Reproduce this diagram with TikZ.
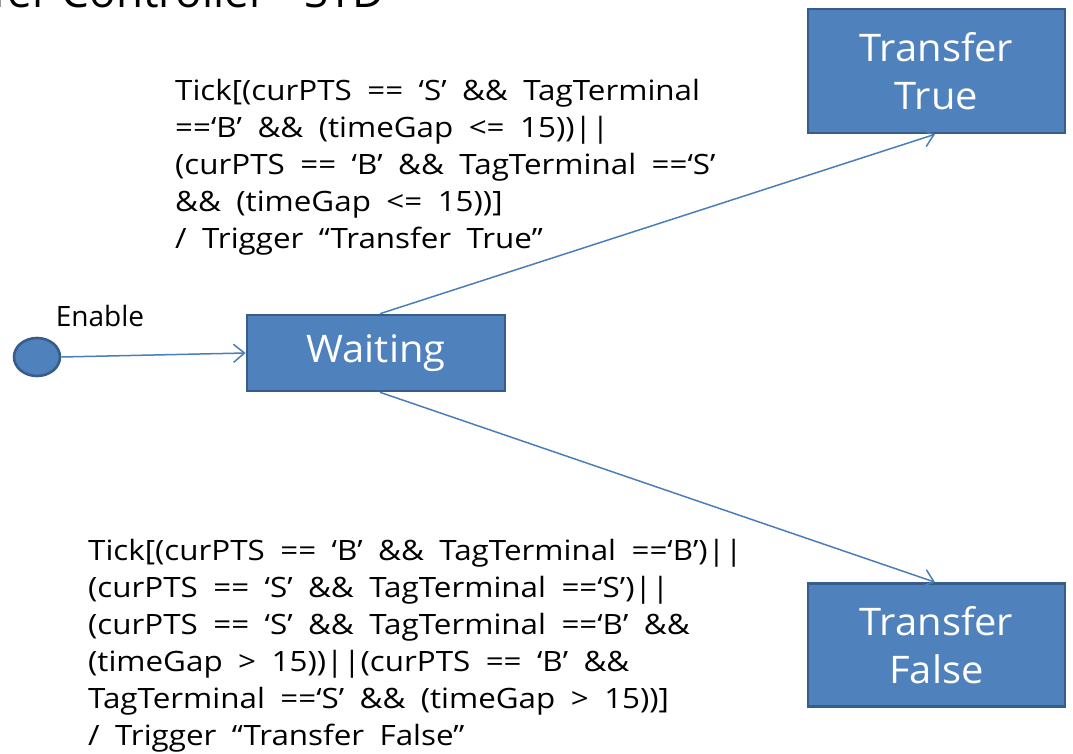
\documentclass[tikz,border=0pt]{standalone}
\usepackage{fontspec}
\setmainfont{Open Sans}
\newfontfamily\guardfont{Open Sans}[FakeStretch=1.12, WordSpace=1.9]
\newfontfamily\statefont{Open Sans}[FakeStretch=1.05]
\usepackage{tikz}
\usetikzlibrary{shapes.geometric,arrows.meta}
\definecolor{stfill}{HTML}{4F81BD}
\definecolor{stedge}{HTML}{385D8A}
\definecolor{stline}{HTML}{4A7EBB}
\tikzset{
  ststate/.style={rectangle, fill=stfill, draw=stedge, line width=2.6pt, text=white, align=center, inner sep=0pt, font=\statefont\fontsize{38}{48}\selectfont},
  stinit/.style={ellipse, fill=stfill, draw=stedge, line width=2.6pt, inner sep=0pt, minimum width=46pt, minimum height=38pt},
  sttrans/.style={draw=stline, line width=1.5pt, -{Straight Barb[length=11pt,width=18pt,line width=1.5pt]}},
  stguard/.style={align=left, inner sep=0pt, font=\guardfont\fontsize{28}{37}\selectfont},
}
\begin{document}
\begin{tikzpicture}[x=1pt, y=-1pt]
\useasboundingbox (0,0) rectangle (1073,754);
% cut-off heading
\node[anchor=base east, inner sep=0pt, font=\fontsize{44}{50}\selectfont] (title) at (385,8) {Transfer Controller - STD};
% states
\node[stinit] (init) at (37,357) {};
\node[inner sep=0pt, font=\fontsize{28}{34}\selectfont] (enable) at (100,316) {Enable};
\node[ststate, minimum width=258pt, minimum height=76pt] (waiting) at (376,353) {Waiting};
\node[ststate, minimum width=257pt, minimum height=124pt] (ttrue) at (936.5,71) {Transfer\\True};
\node[ststate, minimum width=257pt, minimum height=123pt] (tfalse) at (936.5,645) {Transfer\\False};
% transitions
\draw[sttrans] (init.east) -- (waiting.west);
\draw[sttrans] ([xshift=4pt]waiting.north) -- ([xshift=-1.5pt]ttrue.south);
\draw[sttrans] ([xshift=4pt]waiting.south) -- ([xshift=-1.5pt]tfalse.north);
% guards
\node[stguard, anchor=north west] (guardtrue) at (175,79) {Tick[(curPTS == ‘S’ \&\& TagTerminal\\
==‘B’ \&\& (timeGap <= 15))||\\
(curPTS == ‘B’ \&\& TagTerminal ==‘S’\\
\&\& (timeGap <= 15))]\\
/ Trigger “Transfer True”};
\node[stguard, anchor=north west] (guardfalse) at (88,539) {Tick[(curPTS == ‘B’ \&\& TagTerminal ==‘B’)||\\
(curPTS == ‘S’ \&\& TagTerminal ==‘S’)||\\
(curPTS == ‘S’ \&\& TagTerminal ==‘B’ \&\&\\
(timeGap > 15))||(curPTS == ‘B’ \&\&\\
TagTerminal ==‘S’ \&\& (timeGap > 15))]\\
/ Trigger “Transfer False”};
\end{tikzpicture}
\end{document}
